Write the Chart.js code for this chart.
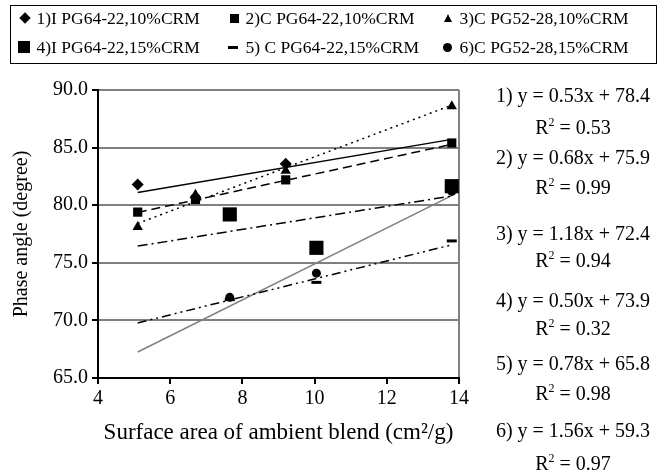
<!DOCTYPE html>
<html>
<head>
<meta charset="utf-8">
<script src="https://cdn.jsdelivr.net/npm/chart.js@4"></script>
<style>
  body { margin: 0; background: #fff; }
  #wrap { position: relative; width: 668px; height: 472px; font-family: 'Liberation Serif', serif; color: #000; }
  canvas { position: absolute; left: 0; top: 0; }
  #legend { position: absolute; left: 10px; top: 5px; width: 647px; height: 59px; border: 1.5px solid #000; box-sizing: border-box; }
  .txt { position: absolute; font-size: 17.5px; line-height: 18px; white-space: nowrap; }
  .mk { position: absolute; background: #000; }
  .eq { position: absolute; left: 490px; width: 166px; text-align: center; font-size: 20px; line-height: 20px; white-space: nowrap; }
  .eq sup { font-size: 12px; vertical-align: 8px; line-height: 0; }
</style>
</head>
<body>
<div id="wrap">
  <canvas id="chart" width="668" height="472"></canvas>
  <div id="legend"></div>
  <div id="eqs"></div>
</div>
<script>
// series labels and measured points
const seriesNames = ['1)I PG64-22,10%CRM', '2)C PG64-22,10%CRM', '3)C PG52-28,10%CRM',
                     '4)I PG64-22,15%CRM', '5) C PG64-22,15%CRM', '6)C PG52-28,15%CRM'];

const s1X = [5.1, 6.7, 9.2];
const s1Y = [81.8, 80.7, 83.6];
const s2X = [5.1, 6.7, 9.2, 13.8];
const s2Y = [79.4, 80.5, 82.2, 85.4];
const s3X = [5.1, 6.7, 9.2, 13.8];
const s3Y = [78.1, 80.9, 83.0, 88.6];
const s4X = [7.65, 10.05, 13.8];
const s4Y = [79.2, 76.3, 81.65];
const s5X = [7.65, 10.05, 13.8];
const s5Y = [71.8, 73.3, 76.9];
const s6X = [7.65, 10.05, 13.8];
const s6Y = [72.0, 74.1, 81.2];

// trend line equations printed on the right
const slopes = [0.53, 0.68, 1.18, 0.50, 0.78, 1.56];
const intercepts = [78.4, 75.9, 72.4, 73.9, 65.8, 59.3];
const rSquared = ['0.53', '0.99', '0.94', '0.32', '0.98', '0.97'];
const trendFrom = 5.1, trendTo = 13.8;

const xTicks = [4, 6, 8, 10, 12, 14];
const yTicks = [65, 70, 75, 80, 85, 90];

const pts = (xs, ys) => xs.map((x, i) => ({x: x, y: ys[i]}));
const trend = i => [
    {x: trendFrom, y: slopes[i] * trendFrom + intercepts[i]},
    {x: trendTo, y: slopes[i] * trendTo + intercepts[i]}
];

const markers = [
    {style: 'rectRot', r: 6},
    {style: 'rect', r: 6.5},
    {style: 'triangle', r: 6},
    {style: 'rect', r: 10},
    {style: 'line', r: 5},
    {style: 'circle', r: 4.5}
];
const trendStyles = [
    {color: '#000', dash: []},
    {color: '#000', dash: [9, 5]},
    {color: '#000', dash: [2, 4]},
    {color: '#000', dash: [10, 4, 2, 4]},
    {color: '#000', dash: [9, 4, 2, 4, 2, 4]},
    {color: '#808080', dash: []}
];

const pointSets = [pts(s1X, s1Y), pts(s2X, s2Y), pts(s3X, s3Y), pts(s4X, s4Y), pts(s5X, s5Y), pts(s6X, s6Y)];

const datasets = [];
pointSets.forEach((p, i) => {
    datasets.push({
        type: 'line',
        data: trend(i),
        borderColor: trendStyles[i].color,
        borderDash: trendStyles[i].dash,
        borderWidth: 1.5,
        pointRadius: 0,
        showLine: true,
        fill: false,
        order: 2
    });
});
pointSets.forEach((p, i) => {
    datasets.push({
        type: 'scatter',
        label: seriesNames[i],
        data: p,
        pointStyle: markers[i].style,
        pointRadius: markers[i].r,
        backgroundColor: '#000',
        borderColor: '#000',
        borderWidth: markers[i].style === 'line' ? 3 : 0,
        order: 1
    });
});

Chart.defaults.font.family = "'Liberation Serif', serif";
Chart.defaults.font.size = 20;
Chart.defaults.color = '#000';

new Chart(document.getElementById('chart'), {
    data: {datasets: datasets},
    options: {
        responsive: false,
        animation: false,
        layout: {padding: {top: 90, right: 209, left: 0, bottom: 0}},
        plugins: {legend: {display: false}, tooltip: {enabled: false}},
        scales: {
            x: {
                type: 'linear',
                min: 4, max: 14,
                afterFit: s => { s.height = 94; },
                afterBuildTicks: s => { s.ticks = xTicks.map(v => ({value: v})); },
                ticks: {padding: 3, maxRotation: 0},
                grid: {
                    color: c => c.tick && c.tick.value === 14 ? '#808080' : 'rgba(0,0,0,0)',
                    lineWidth: 2,
                    tickColor: '#000',
                    tickLength: 6
                },
                border: {color: '#000', width: 2},
                title: {
                    display: true,
                    text: 'Surface area of ambient blend (cm²/g)',
                    font: {size: 23},
                    padding: {top: 0, bottom: 25}
                }
            },
            y: {
                min: 65, max: 90,
                afterFit: s => { s.width = 98; },
                afterBuildTicks: s => { s.ticks = yTicks.map(v => ({value: v})); },
                ticks: {padding: 4, callback: v => v.toFixed(1)},
                grid: {color: '#808080', lineWidth: 2, tickColor: '#000', tickLength: 6},
                border: {color: '#000', width: 2},
                title: {display: true, text: 'Phase angle (degree)', padding: {top: 10, bottom: 0}}
            }
        }
    }
});

// legend box (two rows, three columns); positions relative to the box interior
const legendText = [25.5, 234.5, 448.5];
const legendRows = [3, 32];
const legend = document.getElementById('legend');
const shapes = [
    '<div class="mk" style="left:6px;top:5px;width:8px;height:8px;transform:rotate(45deg)"></div>',
    '<div class="mk" style="left:6px;top:5px;width:9px;height:9px"></div>',
    '<div style="position:absolute;left:6px;top:5px;width:0;height:0;border-left:4px solid transparent;border-right:4px solid transparent;border-bottom:8px solid #000"></div>',
    '<div class="mk" style="left:3px;top:3px;width:12px;height:12px"></div>',
    '<div class="mk" style="left:4px;top:8px;width:10px;height:3px"></div>',
    '<div class="mk" style="left:5px;top:5px;width:9px;height:9px;border-radius:50%"></div>'
];
seriesNames.forEach((name, i) => {
    const col = i % 3, row = Math.floor(i / 3);
    const m = document.createElement('div');
    m.style.cssText = 'position:absolute;width:18px;height:18px;left:' + (legendText[col] - 22) + 'px;top:' + legendRows[row] + 'px';
    m.innerHTML = shapes[i];
    legend.appendChild(m);
    const t = document.createElement('div');
    t.className = 'txt';
    t.style.left = legendText[col] + 'px';
    t.style.top = legendRows[row] + 'px';
    t.textContent = name;
    legend.appendChild(t);
});

// regression equations
const eqTops = [95, 127, 157, 187, 233, 260, 300, 328, 363, 393, 430, 463];
const eqs = document.getElementById('eqs');
slopes.forEach((m, i) => {
    const a = document.createElement('div');
    a.className = 'eq';
    a.style.top = (eqTops[i * 2] - 10) + 'px';
    a.textContent = (i + 1) + ') y = ' + m.toFixed(2) + 'x + ' + intercepts[i].toFixed(1);
    eqs.appendChild(a);
    const b = document.createElement('div');
    b.className = 'eq';
    b.style.top = (eqTops[i * 2 + 1] - 10) + 'px';
    b.innerHTML = 'R<sup>2</sup> = ' + rSquared[i];
    eqs.appendChild(b);
});
</script>
</body>
</html>
